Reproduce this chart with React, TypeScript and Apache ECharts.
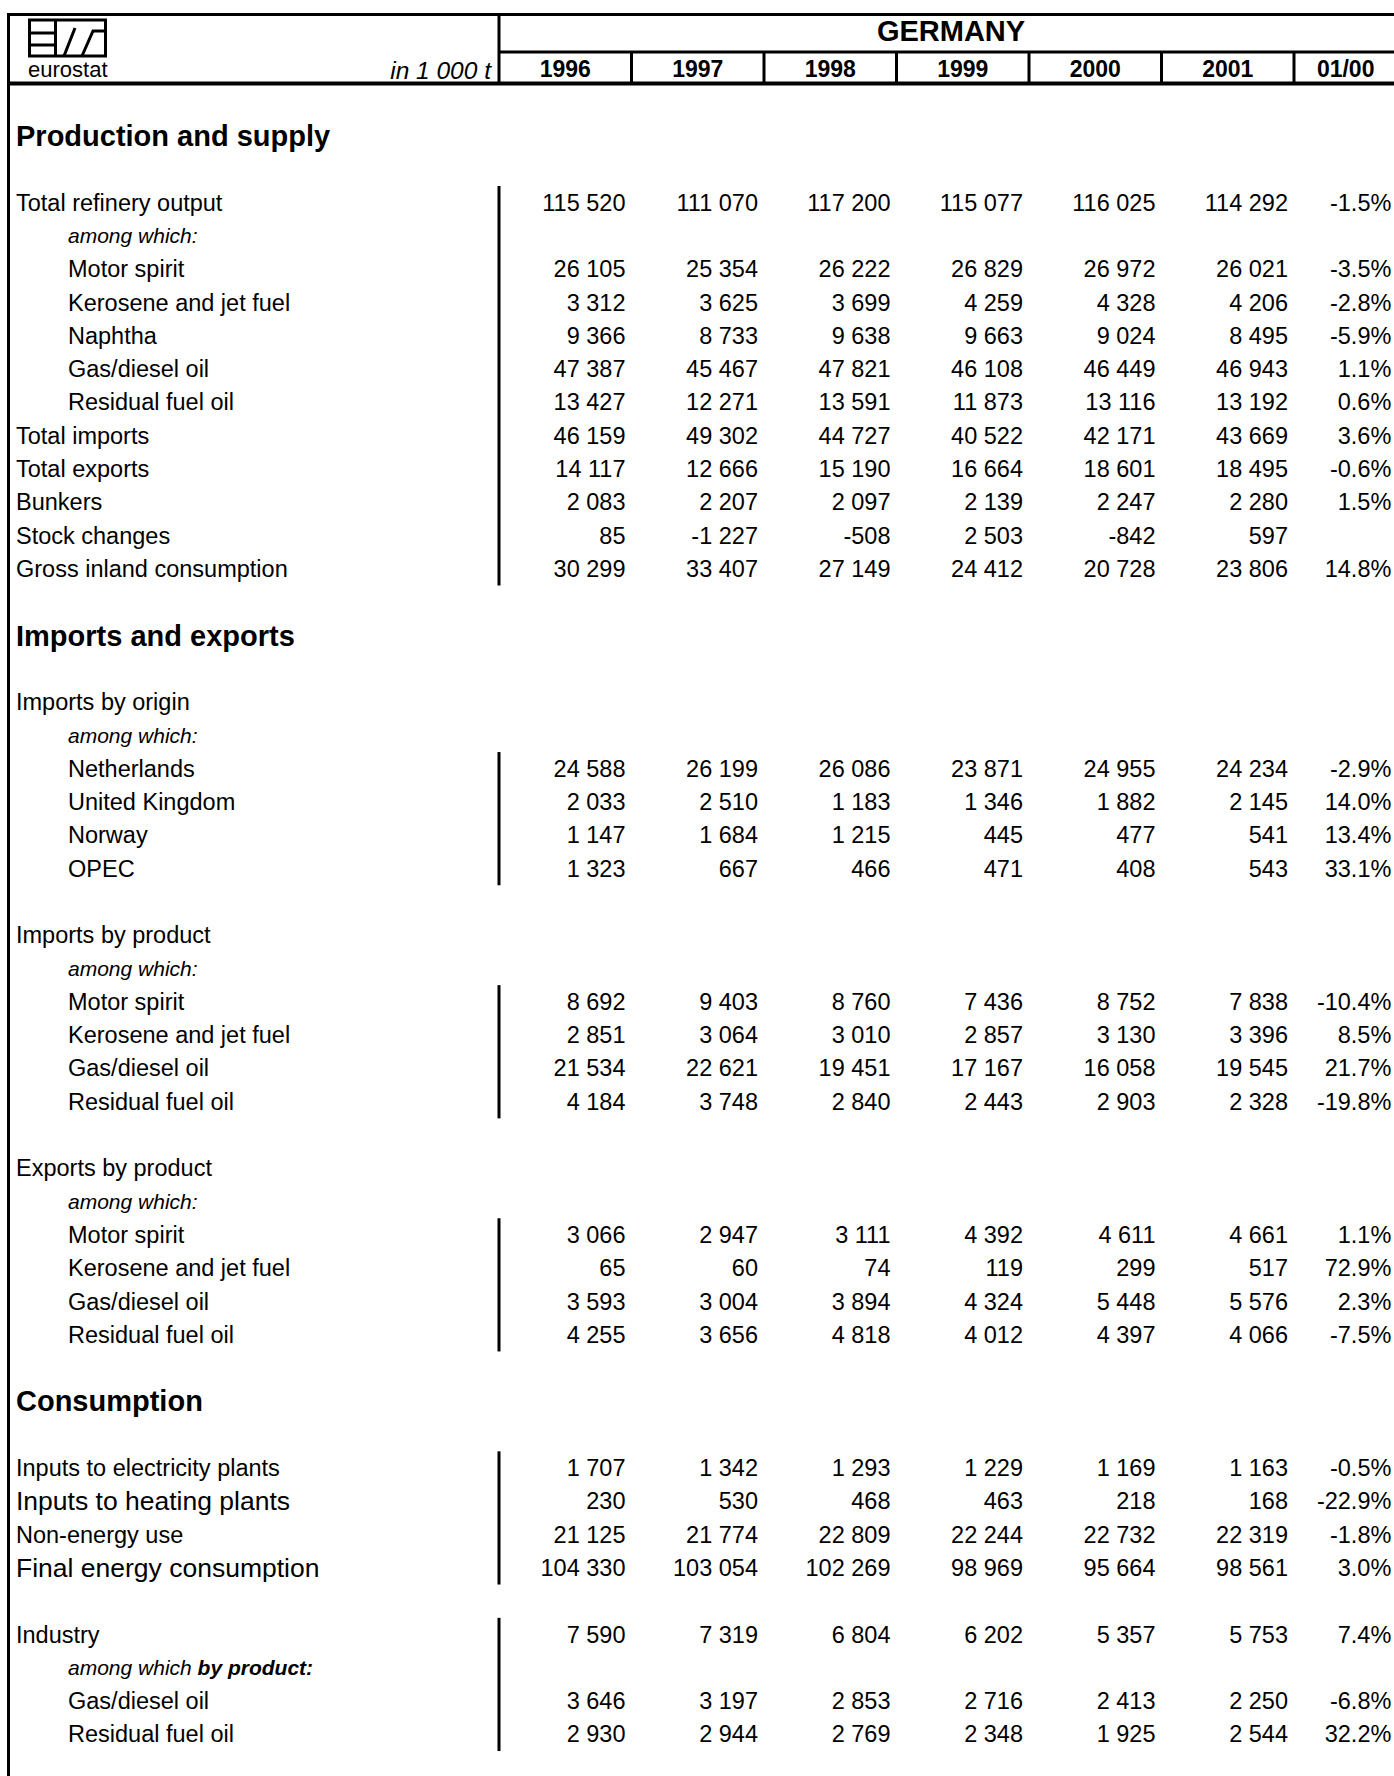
import React, { useEffect, useRef } from 'react';
import * as echarts from 'echarts';

// ---------- DATA ----------
const countryTitle = 'GERMANY';
const unitLabel = 'in 1 000 t';
const columnHeads = ['1996', '1997', '1998', '1999', '2000', '2001', '01/00'];

const sectionTitles = ['Production and supply', 'Imports and exports', 'Consumption'];

// Production and supply
const supplyLabels = ['Total refinery output', 'among which:', 'Motor spirit', 'Kerosene and jet fuel', 'Naphtha', 'Gas/diesel oil', 'Residual fuel oil', 'Total imports', 'Total exports', 'Bunkers', 'Stock changes', 'Gross inland consumption'];
const supplyKinds = ['main', 'note', 'sub', 'sub', 'sub', 'sub', 'sub', 'main', 'main', 'main', 'main', 'main'];
const supplyValues = [
  [115520, 111070, 117200, 115077, 116025, 114292],
  null,
  [26105, 25354, 26222, 26829, 26972, 26021],
  [3312, 3625, 3699, 4259, 4328, 4206],
  [9366, 8733, 9638, 9663, 9024, 8495],
  [47387, 45467, 47821, 46108, 46449, 46943],
  [13427, 12271, 13591, 11873, 13116, 13192],
  [46159, 49302, 44727, 40522, 42171, 43669],
  [14117, 12666, 15190, 16664, 18601, 18495],
  [2083, 2207, 2097, 2139, 2247, 2280],
  [85, -1227, -508, 2503, -842, 597],
  [30299, 33407, 27149, 24412, 20728, 23806],
];
const supplyChange = [-1.5, null, -3.5, -2.8, -5.9, 1.1, 0.6, 3.6, -0.6, 1.5, null, 14.8];

// Imports by origin
const originLabels = ['Imports by origin', 'among which:', 'Netherlands', 'United Kingdom', 'Norway', 'OPEC'];
const originKinds = ['main', 'note', 'sub', 'sub', 'sub', 'sub'];
const originValues = [
  null,
  null,
  [24588, 26199, 26086, 23871, 24955, 24234],
  [2033, 2510, 1183, 1346, 1882, 2145],
  [1147, 1684, 1215, 445, 477, 541],
  [1323, 667, 466, 471, 408, 543],
];
const originChange = [null, null, -2.9, 14.0, 13.4, 33.1];

// Imports by product
const importLabels = ['Imports by product', 'among which:', 'Motor spirit', 'Kerosene and jet fuel', 'Gas/diesel oil', 'Residual fuel oil'];
const importKinds = ['main', 'note', 'sub', 'sub', 'sub', 'sub'];
const importValues = [
  null,
  null,
  [8692, 9403, 8760, 7436, 8752, 7838],
  [2851, 3064, 3010, 2857, 3130, 3396],
  [21534, 22621, 19451, 17167, 16058, 19545],
  [4184, 3748, 2840, 2443, 2903, 2328],
];
const importChange = [null, null, -10.4, 8.5, 21.7, -19.8];

// Exports by product
const exportLabels = ['Exports by product', 'among which:', 'Motor spirit', 'Kerosene and jet fuel', 'Gas/diesel oil', 'Residual fuel oil'];
const exportKinds = ['main', 'note', 'sub', 'sub', 'sub', 'sub'];
const exportValues = [
  null,
  null,
  [3066, 2947, 3111, 4392, 4611, 4661],
  [65, 60, 74, 119, 299, 517],
  [3593, 3004, 3894, 4324, 5448, 5576],
  [4255, 3656, 4818, 4012, 4397, 4066],
];
const exportChange = [null, null, 1.1, 72.9, 2.3, -7.5];

// Consumption
const consumptionLabels = ['Inputs to electricity plants', 'Inputs to heating plants', 'Non-energy use', 'Final energy consumption'];
const consumptionKinds = ['main', 'main', 'main', 'main'];
const consumptionValues = [
  [1707, 1342, 1293, 1229, 1169, 1163],
  [230, 530, 468, 463, 218, 168],
  [21125, 21774, 22809, 22244, 22732, 22319],
  [104330, 103054, 102269, 98969, 95664, 98561],
];
const consumptionChange = [-0.5, -22.9, -1.8, 3.0];

// Industry
const industryLabels = ['Industry', 'among which|by product:', 'Gas/diesel oil', 'Residual fuel oil'];
const industryKinds = ['main', 'note', 'sub', 'sub'];
const industryValues = [
  [7590, 7319, 6804, 6202, 5357, 5753],
  null,
  [3646, 3197, 2853, 2716, 2413, 2250],
  [2930, 2944, 2769, 2348, 1925, 2544],
];
const industryChange = [7.4, null, -6.8, 32.2];

// ---------- LAYOUT / STYLE ----------
const FONT = '"Liberation Sans", Arial, Helvetica, sans-serif';
const LARGER_LABELS = new Set(['Inputs to heating plants', 'Final energy consumption']);
const COL_SPAN = [1, 1, 1, 1, 1, 1, 0.78];
const LEFT_X = 16;
const INDENT_X = 68;
const COL_W = 132.5;
const X_MAX = 6.7;
const ROW_H = 33.3;

type Row = { label: string; kind: string; values?: number[] | null; change?: number | null; row: number };

function buildRows(): Row[] {
  const rows: Row[] = [];
  let r = 0;
  const section = (t: string) => { rows.push({ label: t, kind: 'section', row: r }); r += 2; };
  const group = (labels: string[], kinds: string[], vals: (number[] | null)[], ch: (number | null)[]) => {
    labels.forEach((l, i) => { rows.push({ label: l, kind: kinds[i], values: vals[i], change: ch[i], row: r }); r += 1; });
    r += 1;
  };
  section(sectionTitles[0]);
  group(supplyLabels, supplyKinds, supplyValues, supplyChange);
  section(sectionTitles[1]);
  group(originLabels, originKinds, originValues, originChange);
  group(importLabels, importKinds, importValues, importChange);
  group(exportLabels, exportKinds, exportValues, exportChange);
  section(sectionTitles[2]);
  group(consumptionLabels, consumptionKinds, consumptionValues, consumptionChange);
  group(industryLabels, industryKinds, industryValues, industryChange);
  return rows;
}

function fmtNum(v: number): string {
  const s = Math.abs(v).toString().replace(/\B(?=(\d{3})+(?!\d))/g, ' ');
  return (v < 0 ? '-' : '') + s;
}
function fmtPct(v: number): string {
  return v.toFixed(1) + '%';
}

export default function App() {
  const ref = useRef<HTMLDivElement>(null);
  useEffect(() => {
    const chart = echarts.init(ref.current!, null, { renderer: 'svg' });
    const rows = buildRows();
    const lastRow = rows[rows.length - 1].row;

    // cells
    const cellData: number[][] = [];
    const cellText: string[] = [];
    rows.forEach((r) => {
      if (r.values) {
        r.values.forEach((v, c) => {
          cellData.push([c + COL_SPAN[c], r.row]);
          cellText.push(fmtNum(v));
        });
      }
      if (r.change !== null && r.change !== undefined) {
        cellData.push([6 + COL_SPAN[6], r.row]);
        cellText.push(fmtPct(r.change));
      }
    });

    // divider blocks: runs of contiguous rows starting at the first row with values
    const blocks: number[][] = [];
    let prevRow = -99;
    let cur: number[] | null = null;
    rows.forEach((r) => {
      if (r.kind === 'section') { cur = null; prevRow = r.row; return; }
      if (r.row !== prevRow + 1) cur = null;
      if (r.values) {
        if (cur) cur[2] = r.row;
        else { cur = [0, r.row, r.row]; blocks.push(cur); }
      }
      prevRow = r.row;
    });

    const headData = columnHeads.map((_, c) => [c + COL_SPAN[c] / 2, 0]);
    const sepData = [1, 2, 3, 4, 5, 6].map((b) => [b, 0]);

    const MID_Y = 52;
    const THICK_Y = 83.5;
    const LINE = { stroke: '#000', lineWidth: 3 };

    const option: any = {
      animation: false,
      backgroundColor: '#ffffff',
      grid: { left: 499, top: 136, width: COL_W * X_MAX, height: ROW_H * lastRow, containLabel: false },
      xAxis: { type: 'value', min: 0, max: X_MAX, show: false },
      yAxis: { type: 'value', min: 0, max: lastRow, inverse: true, show: false },
      graphic: [
        // table frame
        { type: 'line', shape: { x1: 7, y1: 14.5, x2: 1394, y2: 14.5 }, style: LINE },
        { type: 'line', shape: { x1: 8.5, y1: 13, x2: 8.5, y2: 1776 }, style: LINE },
        { type: 'line', shape: { x1: 499, y1: 13, x2: 499, y2: 85 }, style: LINE },
        { type: 'line', shape: { x1: 499, y1: MID_Y, x2: 1394, y2: MID_Y }, style: LINE },
        { type: 'line', shape: { x1: 7, y1: THICK_Y, x2: 1394, y2: THICK_Y }, style: { stroke: '#000', lineWidth: 4 } },
        // eurostat logo
        { type: 'rect', shape: { x: 29.5, y: 20, width: 76, height: 36 }, style: { fill: 'none', stroke: '#000', lineWidth: 3 } },
        { type: 'line', shape: { x1: 30, y1: 33, x2: 55, y2: 33 }, style: LINE },
        { type: 'line', shape: { x1: 30, y1: 45, x2: 55, y2: 45 }, style: LINE },
        { type: 'line', shape: { x1: 55.5, y1: 20, x2: 55.5, y2: 56 }, style: LINE },
        { type: 'line', shape: { x1: 64, y1: 56, x2: 75, y2: 28 }, style: LINE },
        { type: 'polyline', shape: { points: [[82, 56], [93, 31], [105, 31]] }, style: { fill: 'none', stroke: '#000', lineWidth: 3 } },
        { type: 'text', x: 28, y: 69, style: { text: 'eurostat', font: `22px ${FONT}`, fill: '#000', verticalAlign: 'middle', align: 'left' } },
        // header texts
        { type: 'text', x: 491, y: 70.5, style: { text: unitLabel, font: `italic 24.5px ${FONT}`, fill: '#000', verticalAlign: 'middle', align: 'right' } },
        { type: 'text', x: 951, y: 31, style: { text: countryTitle, font: `bold 29px ${FONT}`, fill: '#000', verticalAlign: 'middle', align: 'center' } },
      ],
      series: [
        {
          type: 'custom', name: 'heads', silent: true, data: headData,
          renderItem: (params: any, api: any) => {
            const p = api.coord([api.value(0), 0]);
            return { type: 'text', x: p[0], y: 69, style: { text: columnHeads[params.dataIndex], font: `bold 23px ${FONT}`, fill: '#000', align: 'center', verticalAlign: 'middle' } };
          },
        },
        {
          type: 'custom', name: 'seps', silent: true, data: sepData,
          renderItem: (params: any, api: any) => {
            const p = api.coord([api.value(0), 0]);
            return { type: 'line', shape: { x1: p[0], y1: MID_Y, x2: p[0], y2: THICK_Y }, style: LINE };
          },
        },
        {
          type: 'custom', name: 'labels', silent: true, data: rows.map((r) => [0, r.row]),
          renderItem: (params: any, api: any) => {
            const r = rows[params.dataIndex];
            const y = api.coord([0, api.value(1)])[1];
            if (r.kind === 'section') {
              return { type: 'text', x: LEFT_X, y, style: { text: r.label, font: `bold 29px ${FONT}`, fill: '#000', verticalAlign: 'middle' } };
            }
            if (r.kind === 'note') {
              if (r.label.indexOf('|') >= 0) {
                const [a, b] = r.label.split('|');
                return {
                  type: 'text', x: INDENT_X, y,
                  style: {
                    text: `{a|${a} }{b|${b}}`, verticalAlign: 'middle', fill: '#000',
                    rich: {
                      a: { font: `italic 21px ${FONT}`, fill: '#000' },
                      b: { font: `italic bold 21px ${FONT}`, fill: '#000' },
                    },
                  },
                };
              }
              return { type: 'text', x: INDENT_X, y, style: { text: r.label, font: `italic 21px ${FONT}`, fill: '#000', verticalAlign: 'middle' } };
            }
            const size = LARGER_LABELS.has(r.label) ? 26.5 : 23.5;
            return { type: 'text', x: r.kind === 'sub' ? INDENT_X : LEFT_X, y, style: { text: r.label, font: `${size}px ${FONT}`, fill: '#000', verticalAlign: 'middle' } };
          },
        },
        {
          type: 'custom', name: 'cells', silent: true, data: cellData,
          renderItem: (params: any, api: any) => {
            const p = api.coord([api.value(0), api.value(1)]);
            return { type: 'text', x: p[0] - 6, y: p[1], style: { text: cellText[params.dataIndex], font: `23.5px ${FONT}`, fill: '#000', align: 'right', verticalAlign: 'middle' } };
          },
        },
        {
          type: 'custom', name: 'dividers', silent: true, data: blocks,
          renderItem: (params: any, api: any) => {
            const a = api.coord([api.value(0), api.value(1) - 0.5]);
            const b = api.coord([api.value(0), api.value(2) + 0.5]);
            return { type: 'line', shape: { x1: a[0], y1: a[1], x2: b[0], y2: b[1] }, style: LINE };
          },
        },
      ],
    };
    chart.setOption(option);
    return () => chart.dispose();
  }, []);
  return <div ref={ref} style={{ position: 'absolute', left: 0, top: 0, width: 1394, height: 1776, background: '#fff' }} />;
}
